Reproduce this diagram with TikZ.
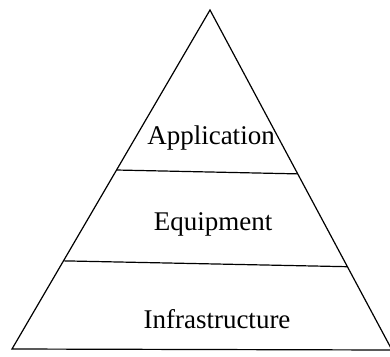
\documentclass[tikz,border=0pt]{standalone}
\usepackage{fontspec}
\setmainfont{Liberation Serif}
\usepackage{tikz}
\usetikzlibrary{calc}

\begin{document}
\begin{tikzpicture}[x=1pt,y=-1pt,
    edge/.style={line width=1.2pt,line join=miter},
    layer/.style={font=\fontsize{27}{29}\selectfont,inner sep=0pt,anchor=base}]
\useasboundingbox (0,0) rectangle (390,356);
% Pyramid corners
\coordinate (Apex) at (210,10);
\coordinate (Left) at (12,349);
\coordinate (Right) at (392,350);
% Pyramid outline
\draw[edge] (Left) -- (Apex) -- (Right) -- cycle;
% Layer borders
\coordinate (Topl) at ($(Apex)!0.472!(Left)$);
\coordinate (Topr) at ($(Apex)!0.482!(Right)$);
\coordinate (Midl) at ($(Apex)!0.74!(Left)$);
\coordinate (Midr) at ($(Apex)!0.755!(Right)$);
\draw[edge] (Topl) -- (Topr);
\draw[edge] (Midl) -- (Midr);
% Layers
\draw (211,144) node[layer] (App){Application};
\draw (213,230) node[layer] (Equip){Equipment};
\draw (217,328) node[layer] (Infra){Infrastructure};
\end{tikzpicture}
\end{document}
